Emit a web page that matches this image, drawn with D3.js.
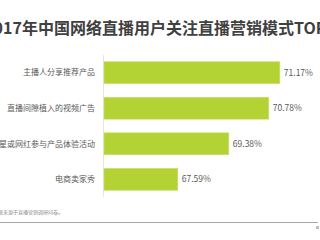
<!DOCTYPE html>
<html lang="zh">
<head>
<meta charset="UTF-8">
<title>2017年中国网络直播用户关注直播营销模式TOP4</title>
<script src="https://d3js.org/d3.v7.min.js"></script>
<style>
  html, body { margin: 0; padding: 0; background: #fff; overflow: hidden; }
  svg { display: block; font-family: "Noto Sans CJK SC", "Noto Sans", sans-serif; }
</style>
</head>
<body>
<svg id="chart" width="320" height="240"></svg>
<script>
const width = 320;
const height = 240;

// 数据
const titleText = "2017年中国网络直播用户关注直播营销模式TOP4";
const categories = ["主播人分享推荐产品", "直播间隙植入的视频广告", "明星或网红参与产品体验活动", "电商卖家秀"];
const values = [71.17, 70.78, 69.38, 67.59];
const sourceText = "来源：数据来源于直播营销调研问卷。";

const svg = d3.select("#chart");

// 标题
svg.append("text")
  .attr("x", width / 2)
  .attr("y", 34)
  .attr("text-anchor", "middle")
  .attr("font-size", "16px")
  .attr("font-weight", "bold")
  .attr("fill", "#404040")
  .text(titleText);

const x = d3.scaleLinear().domain([65, 72]).range([104, 303.5]);
const y = d3.scaleBand().domain(categories).range([55, 197]).paddingInner(0.385).paddingOuter(0.19);

// 纵轴线
svg.append("line")
  .attr("x1", 103.5).attr("x2", 103.5)
  .attr("y1", 55).attr("y2", 197)
  .attr("stroke", "#e6e6e6")
  .attr("stroke-width", 1);

const rows = svg.selectAll("g.row")
  .data(categories)
  .enter()
  .append("g")
  .attr("class", "row");

rows.append("rect")
  .attr("x", x(65))
  .attr("y", d => y(d))
  .attr("width", (d, i) => x(values[i]) - x(65))
  .attr("height", y.bandwidth())
  .attr("fill", "#b3d234")
  .attr("stroke", "#c9e06a")
  .attr("stroke-width", 0.6);

// 类别标签
rows.append("text")
  .attr("x", 95)
  .attr("y", d => y(d) + y.bandwidth() / 2)
  .attr("dy", "0.35em")
  .attr("text-anchor", "end")
  .attr("font-size", "8px")
  .attr("fill", "#595959")
  .text(d => d);

// 数值标签
rows.append("text")
  .attr("x", (d, i) => x(values[i]) + 4)
  .attr("y", d => y(d) + y.bandwidth() / 2)
  .attr("dy", "0.35em")
  .attr("font-size", "8.5px")
  .attr("fill", "#595959")
  .text((d, i) => values[i].toFixed(2) + "%");

// 注释
svg.append("text")
  .attr("x", 63)
  .attr("y", 214)
  .attr("text-anchor", "end")
  .attr("font-size", "5px")
  .attr("fill", "#8c8c8c")
  .text(sourceText);

svg.append("line")
  .attr("x1", 0).attr("x2", 318)
  .attr("y1", 222.5).attr("y2", 222.5)
  .attr("stroke", "#a6a6a6")
  .attr("stroke-width", 1);

svg.append("rect")
  .attr("x", 316).attr("y", 226)
  .attr("width", 3).attr("height", 3)
  .attr("fill", "#bfbfbf");
</script>
</body>
</html>
